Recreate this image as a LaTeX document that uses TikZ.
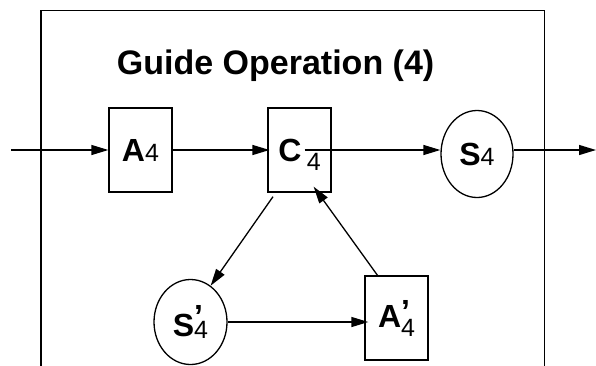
\documentclass[tikz,border=0pt]{standalone}
\usepackage{fontspec}
\setmainfont{Liberation Sans}
\usetikzlibrary{arrows.meta,shapes.geometric,positioning}
\newcommand{\bigsym}{\fontsize{32}{34}\selectfont\bfseries}
\newcommand{\subsym}{\fontsize{25}{27}\selectfont\mdseries}
\newcommand{\primesym}[1]{\rlap{\raisebox{#1}{\bfseries ’}}}
\tikzset{
  opbox/.style={draw,line width=1.3pt,minimum width=63pt,minimum height=84pt,
    inner sep=0pt,font=\bigsym},
  opstate/.style={draw,ellipse,line width=1.3pt,minimum width=72pt,minimum height=87pt,
    inner sep=0pt,font=\bigsym}
}

\begin{document}
\begin{tikzpicture}[x=1pt,y=-1pt,
  arrow/.style={-{Triangle[length=17pt,width=10pt]},line width=1.3pt}
]
  \useasboundingbox (0,0) rectangle (596,365);
  \draw[line width=1.5pt] (41,368) -- (41,10.6) -- (544.5,10.6) -- (544.5,368);
  \node[font=\fontsize{34}{36}\selectfont\bfseries,anchor=base] (title) at (275.6,74) {Guide Operation (4)};
  \node[opbox] (A4) at (140.5,150) {A{\subsym 4}};
  \node[opbox] (C4) at (299.6,150) {C\,\raisebox{-9pt}[0pt][0pt]{\subsym 4}};
  \node[opstate] (S4) at (477,154) {S{\subsym 4}};
  \node[opstate,minimum width=73pt,minimum height=85pt] (Sp4) at (190.5,322) {S\primesym{9pt}\raisebox{-2pt}{\subsym 4}};
  \node[opbox] (Ap4) at (396.5,318) {A\primesym{5pt}\raisebox{-9pt}{\subsym 4}};
  \coordinate (in) at (11,150);
  \coordinate (out) at (596,150);
  \draw[arrow] (in) -- (A4);
  \draw[arrow] (A4) -- ([xshift=2pt]C4.west);
  \draw[arrow] ([xshift=5pt]C4.center) -- (C4.center -| S4.west);
  \draw[arrow] (out -| S4.east) -- (out);
  \draw[arrow] ([xshift=-26.6pt,yshift=-4pt]C4.south) -- (Sp4.61);
  \draw[arrow] ([xshift=-19pt]Ap4.north) -- ([xshift=14pt,yshift=6pt]C4.south);
  \draw[arrow] (Sp4.east) -- ([xshift=4pt]Ap4.west |- Sp4.east);
\end{tikzpicture}
\end{document}
